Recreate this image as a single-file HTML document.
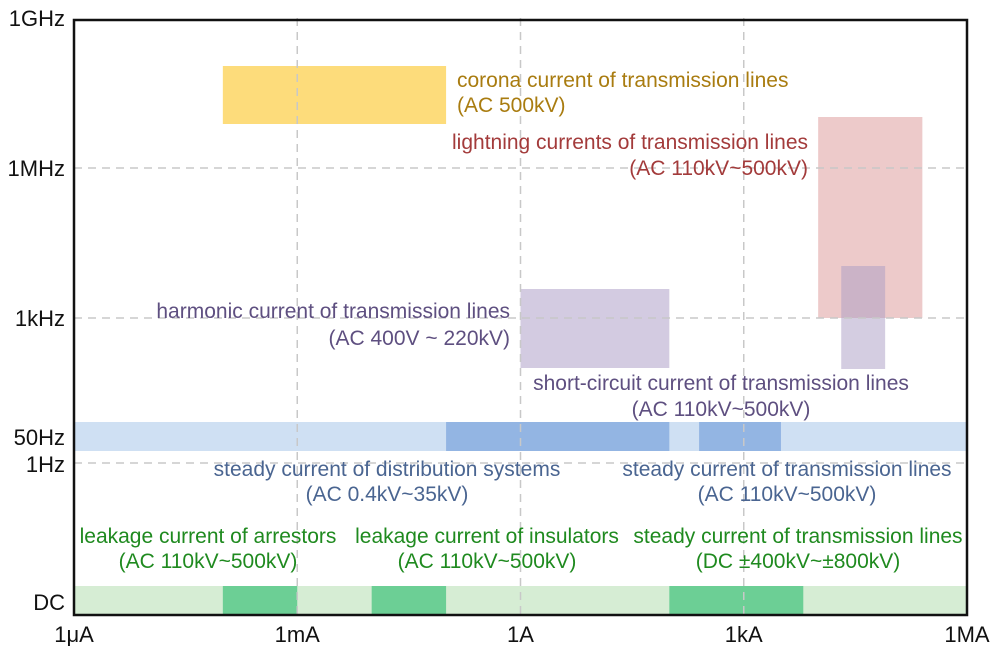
<!DOCTYPE html>
<html><head><meta charset="utf-8"><style>
body{margin:0;background:#fff}
svg text{font-family:"Liberation Sans",sans-serif;font-size:21px}
svg text.tick{font-size:22px}
</style></head><body>
<svg id="c" width="1000" height="652" xmlns="http://www.w3.org/2000/svg"></svg>
<script>
// Data: x in log10(Ampere), y in log10(Hz)
const rectNames = ['corona-current-box','lightning-current-box','lightning-inner-box','harmonic-current-box'];
const rectX0 = [-4, 4.0, 4.31, 0];
const rectX1 = [-1, 5.4, 4.9, 2];
const rectY0 = [6.88, 3, 1.98, 2];
const rectY1 = [8.04, 7.02, 4.04, 3.58];
const rectColors = ['rgba(253,214,100,0.85)','rgba(220,150,150,0.5)','rgba(170,155,195,0.5)','rgba(175,160,200,0.55)'];
const acSegX0 = [-1, 2.4];
const acSegX1 = [2, 3.5];
const dcSegX0 = [-4, -2, 2];
const dcSegX1 = [-3, -1, 3.8];
const xTickVals = [-6, -3, 0, 3, 6];
const xTickLabels = ['1μA','1mA','1A','1kA','1MA'];
const yTickVals = [9, 6, 3];
const yTickLabels = ['1GHz','1MHz','1kHz'];

const L=74,R=967,T=18,B=615;
const xs = v => L + (v+6)*(R-L)/12;
const ys = v => 18 + (9-v)*50;
const NS='http://www.w3.org/2000/svg';
const svg=document.getElementById('c');
function mk(tag,attrs,name,inter){const e=document.createElementNS(NS,tag);for(const k in attrs)e.setAttribute(k,attrs[k]);


svg.appendChild(e);return e;}
function txt(x,y,s,fill,anchor,name,cls){const t=mk('text',{x:x,y:y,fill:fill,'text-anchor':anchor||'start'},name,false);if(cls)t.setAttribute('class',cls);t.textContent=s;return t;}

mk('rect',{x:L,y:422,width:R-L,height:29,fill:'#cfe0f3'},'ac-50hz-band',false);
acSegX0.forEach((v,i)=>{mk('rect',{x:xs(v),y:422,width:xs(acSegX1[i])-xs(v),height:29,fill:'#93b5e3'},'ac-band-segment-'+(i+1),false);});
mk('rect',{x:L,y:586,width:R-L,height:29,fill:'#d6edd4'},'dc-band',false);
dcSegX0.forEach((v,i)=>{mk('rect',{x:xs(v),y:586,width:xs(dcSegX1[i])-xs(v),height:29,fill:'#6ccf95'},'dc-band-segment-'+(i+1),false);});
rectX0.forEach((v,i)=>{mk('rect',{x:xs(v),y:ys(rectY1[i]),width:xs(rectX1[i])-xs(v),height:ys(rectY0[i])-ys(rectY1[i]),fill:rectColors[i]},rectNames[i],false);});

[-3,0,3].forEach((v,i)=>mk('line',{x1:xs(v),x2:xs(v),y1:T,y2:B,stroke:'#c8c8c8','stroke-width':1.5,'stroke-dasharray':'8,6'},'x-grid-line-'+(i+1),false));
[168,318,463].forEach((y,i)=>mk('line',{x1:L,x2:R,y1:y,y2:y,stroke:'#c8c8c8','stroke-width':1.5,'stroke-dasharray':'8,6'},'y-grid-line-'+(i+1),false));
mk('rect',{x:L,y:20,width:R-L,height:B-20,fill:'none',stroke:'#111','stroke-width':2.5},'plot-frame',false);

xTickVals.forEach((v,i)=>txt(xs(v),642,xTickLabels[i],'#111','middle','x-tick-label','tick'));
yTickVals.forEach((v,i)=>txt(65,ys(v)+8,yTickLabels[i],'#111','end','y-tick-label','tick'));
txt(65,445,'50Hz','#111','end','y-tick-label','tick');
txt(65,472,'1Hz','#111','end','y-tick-label','tick');
txt(65,610,'DC','#111','end','y-tick-label','tick');

const go='#a97c10',red='#a33b3b',pur='#5e4f80',blu='#4a6591',grn='#1f8a1f';
txt(457,87,'corona current of transmission lines',go,'start','corona-label');
txt(457,112,'(AC 500kV)',go,'start','corona-label-voltage');
txt(808,149,'lightning currents of transmission lines',red,'end','lightning-label');
txt(808,175,'(AC 110kV~500kV)',red,'end','lightning-label-voltage');
txt(510,318,'harmonic current of transmission lines',pur,'end','harmonic-label');
txt(510,345,'(AC 400V ~ 220kV)',pur,'end','harmonic-label-voltage');
txt(721,390,'short-circuit current of transmission lines',pur,'middle','short-circuit-label');
txt(721,416,'(AC 110kV~500kV)',pur,'middle','short-circuit-label-voltage');
txt(387,476,'steady current of distribution systems',blu,'middle','distribution-label');
txt(387,501,'(AC 0.4kV~35kV)',blu,'middle','distribution-label-voltage');
txt(787,476,'steady current of transmission lines',blu,'middle','ac-transmission-label');
txt(787,501,'(AC 110kV~500kV)',blu,'middle','ac-transmission-label-voltage');
txt(208,543,'leakage current of arrestors',grn,'middle','arrestor-label');
txt(208,568,'(AC 110kV~500kV)',grn,'middle','arrestor-label-voltage');
txt(487,543,'leakage current of insulators',grn,'middle','insulator-label');
txt(487,568,'(AC 110kV~500kV)',grn,'middle','insulator-label-voltage');
txt(798,543,'steady current of transmission lines',grn,'middle','dc-transmission-label');
txt(798,568,'(DC ±400kV~±800kV)',grn,'middle','dc-transmission-label-voltage');
</script>
</body></html>
